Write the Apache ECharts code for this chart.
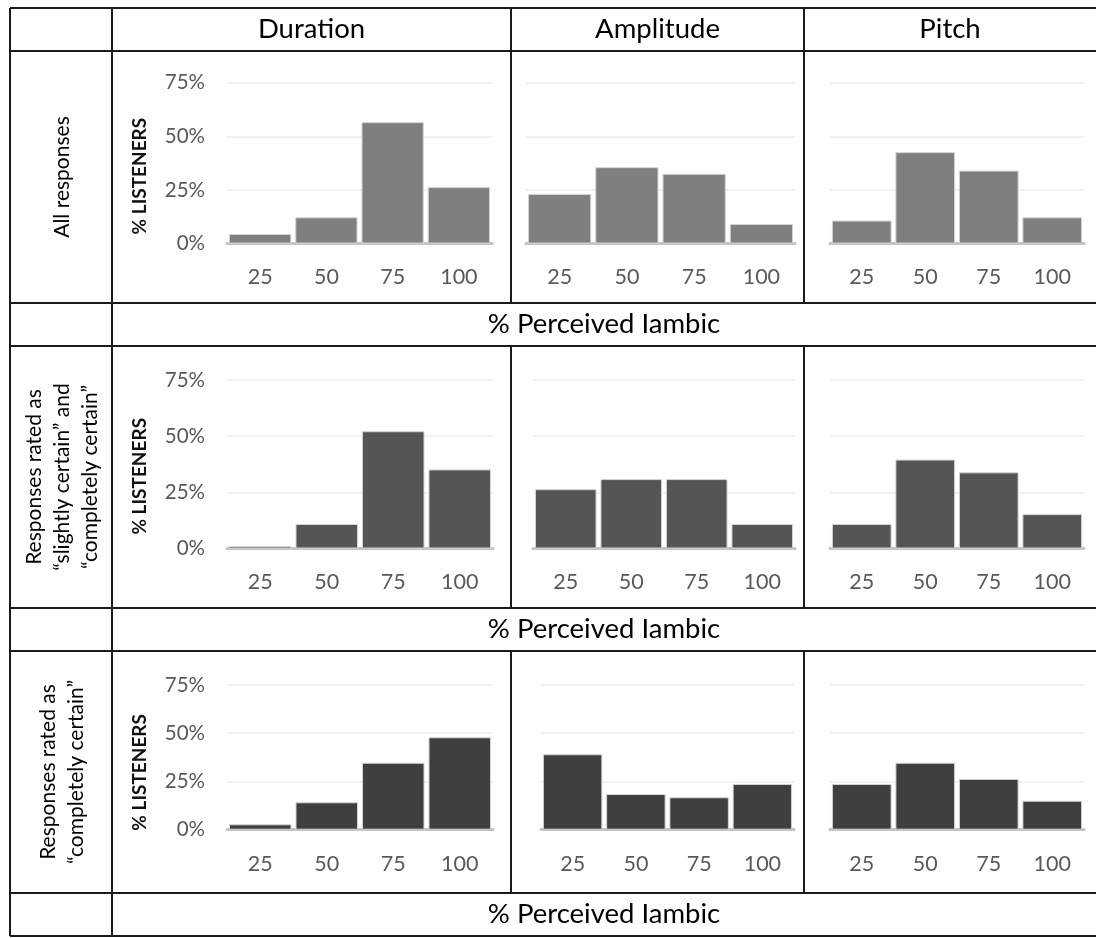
<!DOCTYPE html>
<html>
<head>
<meta charset="utf-8">
<title>% Perceived Iambic by cue</title>
<script src="https://cdn.jsdelivr.net/npm/echarts@6/dist/echarts.min.js"></script>
<style>
  html, body { margin: 0; padding: 0; background: #ffffff; }
  #chart { width: 1096px; height: 938px; }
</style>
</head>
<body>
<div id="chart"></div>
<script>
// Response bins (% perceived iambic) shared by every panel
const percentBins = ['25', '50', '75', '100'];
const yTickValues = [0, 25, 50, 75];

// Column headers and row captions
const cueNames = ['Duration', 'Amplitude', 'Pitch'];
const rowCaptions = [
  'All responses',
  'Responses rated as\n\u201Cslightly certain\u201D and\n\u201Ccompletely certain\u201D',
  'Responses rated as\n\u201Ccompletely certain\u201D'
];
const xAxisTitle = '% Perceived Iambic';
const yAxisTitle = '% LISTENERS';

// % of listeners per bin
const durationAll = [4.4, 12.2, 56.6, 26.3];
const amplitudeAll = [23.1, 35.6, 32.5, 9.1];
const pitchAll = [10.7, 42.6, 34.0, 12.2];

const durationCertain = [1.1, 10.9, 52.2, 35.2];
const amplitudeCertain = [26.4, 30.9, 30.9, 10.9];
const pitchCertain = [10.9, 39.6, 33.9, 15.3];

const durationComplete = [2.8, 14.2, 34.7, 47.9];
const amplitudeComplete = [39.1, 18.5, 16.8, 23.7];
const pitchComplete = [23.7, 34.7, 26.3, 15.0];

const panelData = [
  [durationAll, amplitudeAll, pitchAll],
  [durationCertain, amplitudeCertain, pitchCertain],
  [durationComplete, amplitudeComplete, pitchComplete]
];

// ---- layout (pixels) ----
const FONT = 'Lato, "Open Sans", sans-serif';
const rowColors = ['#7f7f7f', '#555555', '#3f3f3f'];
// plot area top (75% line) and bottom (0 baseline) per row
const rowBands = [[82.7, 243.5], [380, 548.5], [685, 829.7]];
// plot area left/right per row and column
const colBands = [
  [[227, 492], [526, 795], [830, 1084]],
  [[227, 493], [533, 795], [830, 1084]],
  [[227, 493], [541, 794], [830, 1084]]
];
// extra downward shift of the rotated y-axis title per row
const yTitleShift = [13, 12, 15];

// table rules
const tableLeft = 10, tableRight = 1096, captionCol = 112;
const hRules = [8, 51, 303, 346, 608, 651, 893, 936];
const colDividers = [511, 804];
const panelRows = [[51, 303], [346, 608], [651, 893]];
const titleRows = [[303, 346], [608, 651], [893, 936]];

const grids = [], xAxes = [], yAxes = [], series = [];
panelData.forEach((row, r) => {
  row.forEach((values, c) => {
    const idx = grids.length;
    const [top, bottom] = rowBands[r];
    const [left, right] = colBands[r][c];
    grids.push({ left: left, top: top, width: right - left, height: bottom - top });
    xAxes.push({
      type: 'category',
      gridIndex: idx,
      data: percentBins,
      axisTick: { show: false },
      axisLine: { show: true, lineStyle: { color: '#c4c4c4', width: 3 } },
      axisLabel: { color: '#595959', fontFamily: FONT, fontSize: 21.5, margin: 23 }
    });
    const showY = c === 0;
    yAxes.push({
      type: 'value',
      gridIndex: idx,
      min: 0,
      max: 75,
      interval: 25,
      axisLine: { show: false },
      axisTick: { show: false },
      splitLine: { show: true, lineStyle: { color: '#ededed', width: 1.5 } },
      axisLabel: {
        show: showY,
        color: '#595959',
        fontFamily: FONT,
        fontSize: 20.5,
        margin: 22,
        formatter: v => yTickValues.indexOf(v) >= 0 ? v + '%' : ''
      },
      name: showY ? yAxisTitle : '',
      nameLocation: 'middle',
      nameRotate: 90,
      nameGap: 78,
      nameTextStyle: {
        color: '#111111',
        fontFamily: FONT,
        fontWeight: 'bold',
        fontSize: 19,
        padding: [0, yTitleShift[r] * 2, 0, 0]
      }
    });
    series.push({
      type: 'bar',
      xAxisIndex: idx,
      yAxisIndex: idx,
      data: values,
      barCategoryGap: '6%',
      itemStyle: { color: rowColors[r], borderColor: '#d4d4d4', borderWidth: 1 },
      silent: true
    });
  });
});

// table rules, headers and captions drawn as graphic elements
const graphics = [];
const rule = (x1, y1, x2, y2) => graphics.push({
  type: 'line', silent: true, z: 100,
  shape: { x1: x1, y1: y1, x2: x2, y2: y2 },
  style: { stroke: '#1a1a1a', lineWidth: 2 }
});
hRules.forEach(y => rule(tableLeft, y, tableRight, y));
rule(tableLeft, hRules[0], tableLeft, hRules[hRules.length - 1]);
rule(captionCol, hRules[0], captionCol, hRules[hRules.length - 1]);
colDividers.forEach(x => {
  rule(x, hRules[0], x, hRules[1]);
  panelRows.forEach(([y1, y2]) => rule(x, y1, x, y2));
});

const colEdges = [captionCol, colDividers[0], colDividers[1], tableRight];
cueNames.forEach((name, i) => {
  graphics.push({
    type: 'text', silent: true,
    x: (colEdges[i] + colEdges[i + 1]) / 2,
    y: (hRules[0] + hRules[1]) / 2,
    style: { text: name, fill: '#000000', font: '27.5px ' + FONT, align: 'center', verticalAlign: 'middle' }
  });
});
titleRows.forEach(([y1, y2]) => {
  graphics.push({
    type: 'text', silent: true,
    x: (captionCol + tableRight) / 2,
    y: (y1 + y2) / 2,
    style: { text: xAxisTitle, fill: '#000000', font: '27.5px ' + FONT, align: 'center', verticalAlign: 'middle' }
  });
});
rowCaptions.forEach((text, r) => {
  const [y1, y2] = panelRows[r];
  graphics.push({
    type: 'text', silent: true,
    x: (tableLeft + captionCol) / 2 + 1,
    y: (y1 + y2) / 2,
    rotation: Math.PI / 2,
    style: {
      text: text, fill: '#000000', font: '21px ' + FONT,
      lineHeight: 28, align: 'center', verticalAlign: 'middle'
    }
  });
});

const chart = echarts.init(document.getElementById('chart'), null, { renderer: 'canvas' });
chart.setOption({
  animation: false,
  backgroundColor: '#ffffff',
  grid: grids,
  xAxis: xAxes,
  yAxis: yAxes,
  series: series,
  graphic: graphics
});
</script>
</body>
</html>
